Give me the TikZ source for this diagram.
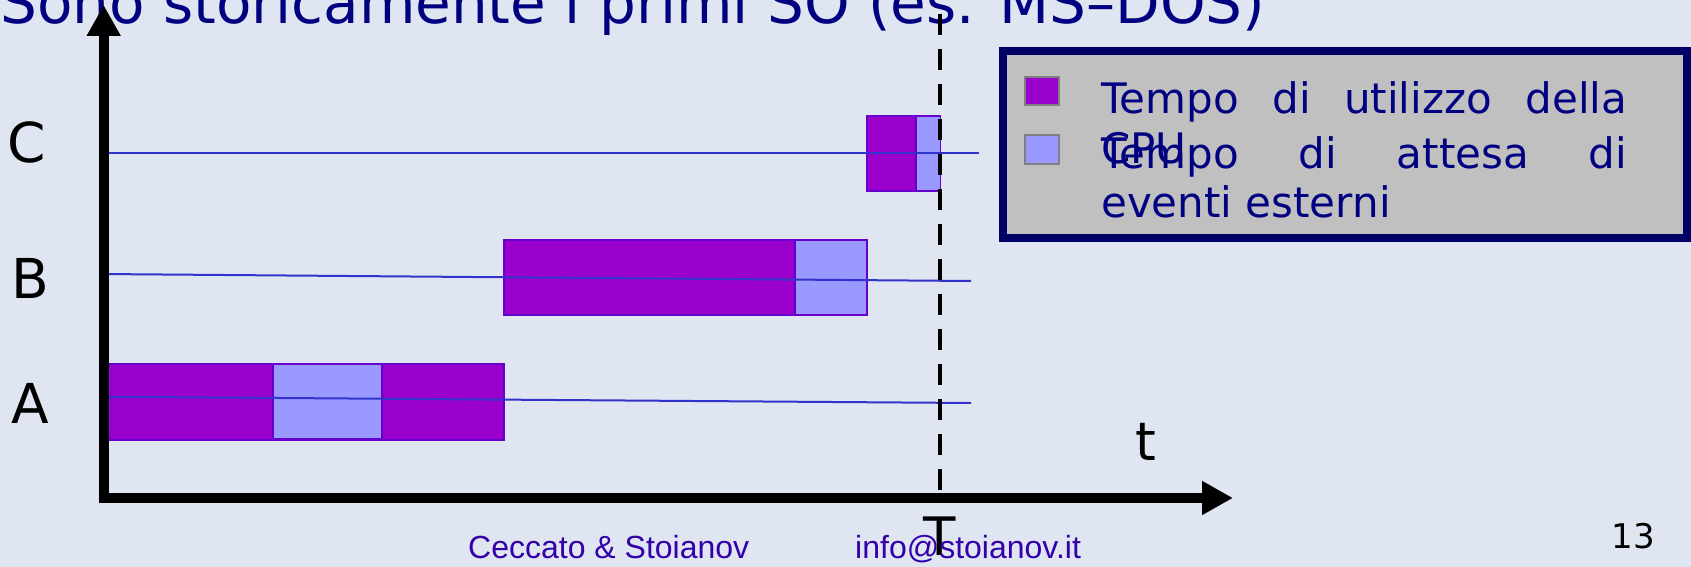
\documentclass[tikz,border=0pt]{standalone}
\usepackage{fontspec}
\setmainfont{DejaVu Sans}
\newfontfamily\footfont{Liberation Sans}
\usetikzlibrary{arrows.meta}

\definecolor{slidebg}{RGB}{223,230,242}
\definecolor{navytext}{RGB}{0,0,128}
\definecolor{cpufill}{RGB}{153,0,204}
\definecolor{waitfill}{RGB}{153,153,255}
\definecolor{barline}{RGB}{102,0,204}
\definecolor{laneline}{RGB}{51,51,204}
\definecolor{legendframe}{RGB}{0,0,102}
\definecolor{legendfill}{RGB}{192,192,192}
\definecolor{legendsq}{RGB}{128,128,128}
\definecolor{footcolor}{RGB}{51,0,170}

\tikzset{
  cpubar/.style={fill=cpufill, draw=barline, line width=1.5pt},
  waitbar/.style={fill=waitfill, draw=barline, line width=1.5pt},
  lane/.style={draw=laneline, line width=2pt},
  timeaxis/.style={line width=10pt, -{Triangle[length=31pt,width=32pt]}},
  limitline/.style={line width=4.5pt, dash pattern=on 21pt off 14pt},
  procname/.style={font=\fontsize{55}{60}\selectfont, anchor=base, inner sep=0pt},
  axisname/.style={font=\fontsize{53}{58}\selectfont, anchor=base, inner sep=0pt},
  legendtext/.style={font=\fontsize{42}{48}\selectfont, text=navytext, anchor=base west, inner sep=0pt},
  legendkey/.style={draw=legendsq, line width=2pt},
  foottext/.style={font=\footfont\fontsize{32}{36}\selectfont, text=footcolor, anchor=base west, inner sep=0pt}
}

\begin{document}
\begin{tikzpicture}[x=1pt,y=-1pt]
  % slide background
  \useasboundingbox (0,0) rectangle (1691,567);
  \fill[slidebg] (0,0) rectangle (1691,567);

  % heading (partly above the page edge)
  \node[font=\fontsize{58}{66}\selectfont, text=navytext, anchor=base west, inner sep=0pt]
    (heading) at (0,24) {Sono storicamente i primi SO (es. MS–DOS)};

  % process A: CPU, wait, CPU
  \filldraw[cpubar] (106,364) rectangle (504,440);
  \filldraw[waitbar] (273,364) rectangle (382,439);
  % process B: CPU, wait
  \filldraw[cpubar] (504,240) rectangle (795,315);
  \filldraw[waitbar] (795,240) rectangle (867,315);
  % process C: CPU, wait
  \filldraw[cpubar] (867,116) rectangle (916,191);
  \filldraw[waitbar] (916,116) rectangle (940.5,191);

  % lane lines
  \coordinate (laneAs) at (100,396.7);
  \coordinate (laneAe) at (971,403);
  \coordinate (laneBs) at (100,274);
  \coordinate (laneBe) at (971,281);
  \coordinate (laneCs) at (100,153);
  \coordinate (laneCe) at (979,153);
  \draw[lane] (laneAs) -- (laneAe);
  \draw[lane] (laneBs) -- (laneBe);
  \draw[lane] (laneCs) -- (laneCe);

  % axes
  \coordinate (ybase) at (103.7,503);
  \coordinate (ytip) at (103.7,5);
  \coordinate (xbase) at (99,498);
  \coordinate (xtip) at (1233,498);
  \draw[timeaxis] (ybase) -- (ytip);
  \draw[timeaxis] (xbase) -- (xtip);

  % time limit T
  \coordinate (limtop) at (940,14);
  \coordinate (limbot) at (940,490);
  \draw[limitline] (limtop) -- (limbot);

  % labels
  \node[procname] (lblC) at (26.5,162.7) {C};
  \node[procname] (lblB) at (30.5,298.3) {B};
  \node[procname] (lblA) at (30,423) {A};
  \node[axisname] (lblt) at (1146,460.7) {t};
  \node[axisname] (lblT) at (940,555) {T};

  % legend
  \draw[legendframe, line width=8pt, fill=legendfill] (1003,51.5) rectangle (1687,237.5);
  \filldraw[legendkey, fill=cpufill] (1025,77) rectangle (1059,105.5);
  \filldraw[legendkey, fill=waitfill] (1025,135) rectangle (1059,164);
  \node[legendtext] (leg1a) at (1101,113.3) {\makebox[526pt][s]{Tempo di utilizzo della}};
  \node[legendtext] (leg1b) at (1101,163) {CPU};
  \node[legendtext] (leg2a) at (1101,168.3) {\makebox[526pt][s]{Tempo di attesa di}};
  \node[legendtext] (leg2b) at (1101,217.3) {eventi esterni};

  % footer
  \node[foottext] (authors) at (468,558) {Ceccato \& Stoianov};
  \node[foottext] (mail) at (855,558) {info@stoianov.it};
  \node[font=\fontsize{34}{38}\selectfont, anchor=base, inner sep=0pt] (page) at (1633.5,548.3) {13};
\end{tikzpicture}
\end{document}
